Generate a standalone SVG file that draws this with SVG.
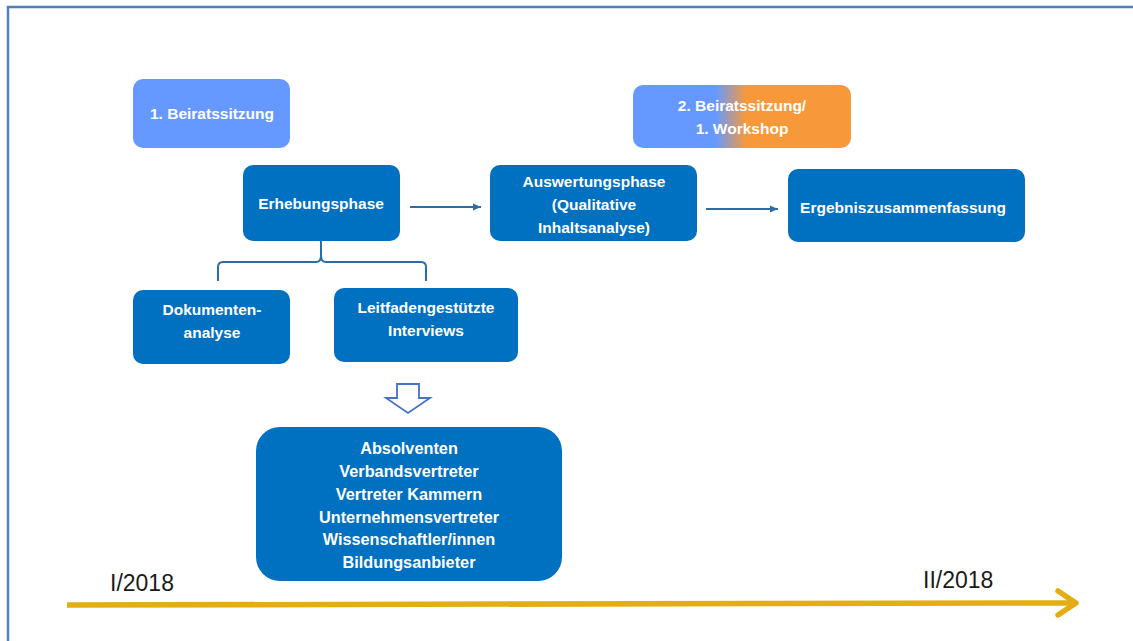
<svg xmlns="http://www.w3.org/2000/svg" width="1133" height="641" viewBox="0 0 1133 641">
  <defs>
    <style>
      .box { fill: #0070C0; }
      .light { fill: #6699FF; }
      .lbl { font-family: "Liberation Sans", Arial, sans-serif; font-weight: bold; font-size: 15.5px; fill: #FFFFFF; text-anchor: middle; }
      .big { font-size: 16.3px; }
      .time { font-family: "Liberation Sans", Arial, sans-serif; font-size: 23px; fill: #1A1A1A; }
      .conn { stroke: #2E6DA4; stroke-width: 2; fill: none; }
    </style>
    <linearGradient id="blueOrange" x1="633" y1="0" x2="851" y2="0" gradientUnits="userSpaceOnUse">
      <stop offset="0" stop-color="#6699FF"/>
      <stop offset="0.38" stop-color="#6699FF"/>
      <stop offset="0.52" stop-color="#F7993A"/>
      <stop offset="1" stop-color="#F7993A"/>
    </linearGradient>
    <marker id="arrowHead" markerWidth="9" markerHeight="9" refX="8" refY="4.5" orient="auto" markerUnits="userSpaceOnUse">
      <path d="M0,1 L8,4.5 L0,8 Z" fill="#2E6DA4"/>
    </marker>
  </defs>

  <rect x="0" y="0" width="1133" height="641" fill="#FFFFFF"/>
  <!-- frame -->
  <path d="M8,641 L8,7 L1133,7" fill="none" stroke="#4F81BD" stroke-width="2.5"/>

  <!-- connectors -->
  <g id="connectors">
    <line class="conn" x1="410" y1="207" x2="481" y2="207" marker-end="url(#arrowHead)"/>
    <line class="conn" x1="706" y1="209" x2="778" y2="209" marker-end="url(#arrowHead)"/>
    <!-- curly brace under Erhebungsphase -->
    <path class="conn" d="M218,281 L218,267 Q218,262 223,262 L316,262 Q321,262 321,256 L321,241 M321,256 Q321,262 326,262 L421,262 Q426,262 426,267 L426,281"/>
    <!-- hollow down arrow -->
    <path d="M397,384 L419,384 L419,398 L430,398 L408,413 L386,398 L397,398 Z" fill="#FFFFFF" stroke="#4472C4" stroke-width="1.8" stroke-linejoin="miter"/>
  </g>

  <g id="beirat1">
    <rect class="light" x="133" y="79" width="157" height="69" rx="10"/>
    <text class="lbl" x="212" y="119">1. Beiratssitzung</text>
  </g>

  <g id="beirat2">
    <rect x="633" y="85" width="218" height="63" rx="10" fill="url(#blueOrange)"/>
    <text class="lbl" x="742" y="111">2. Beiratssitzung/</text>
    <text class="lbl" x="742" y="134">1. Workshop</text>
  </g>

  <g id="erhebung">
    <rect class="box" x="243" y="165" width="157" height="76" rx="10"/>
    <text class="lbl" x="321" y="209">Erhebungsphase</text>
  </g>

  <g id="auswertung">
    <rect class="box" x="490" y="165" width="207" height="76" rx="10"/>
    <text class="lbl" x="594" y="187">Auswertungsphase</text>
    <text class="lbl" x="594" y="210">(Qualitative</text>
    <text class="lbl" x="594" y="233">Inhaltsanalyse)</text>
  </g>

  <g id="ergebnis">
    <rect class="box" x="788" y="169" width="237" height="73" rx="10"/>
    <text class="lbl" x="903" y="213">Ergebniszusammenfassung</text>
  </g>

  <g id="dokumente">
    <rect class="box" x="133" y="290" width="157" height="74" rx="10"/>
    <text class="lbl" x="212" y="315">Dokumenten-</text>
    <text class="lbl" x="212" y="338">analyse</text>
  </g>

  <g id="interviews">
    <rect class="box" x="334" y="288" width="184" height="74" rx="10"/>
    <text class="lbl" x="426" y="313">Leitfadengestützte</text>
    <text class="lbl" x="426" y="336">Interviews</text>
  </g>

  <g id="gruppen">
    <rect class="box" x="256" y="427" width="306" height="154" rx="24"/>
    <text class="lbl big" x="409" y="454">Absolventen</text>
    <text class="lbl big" x="409" y="477">Verbandsvertreter</text>
    <text class="lbl big" x="409" y="500">Vertreter Kammern</text>
    <text class="lbl big" x="409" y="523">Unternehmensvertreter</text>
    <text class="lbl big" x="409" y="545">Wissenschaftler/innen</text>
    <text class="lbl big" x="409" y="568">Bildungsanbieter</text>
  </g>

  <g id="zeitachse">
    <line x1="67" y1="605" x2="1075" y2="603" stroke="#E3AE14" stroke-width="5.5"/>
    <path d="M1058,591 L1076,603 L1058,615" fill="none" stroke="#E3AE14" stroke-width="5.5" stroke-linecap="round" stroke-linejoin="round"/>
    <text class="time" x="110" y="591">I/2018</text>
    <text class="time" x="923" y="588">II/2018</text>
  </g>
</svg>
